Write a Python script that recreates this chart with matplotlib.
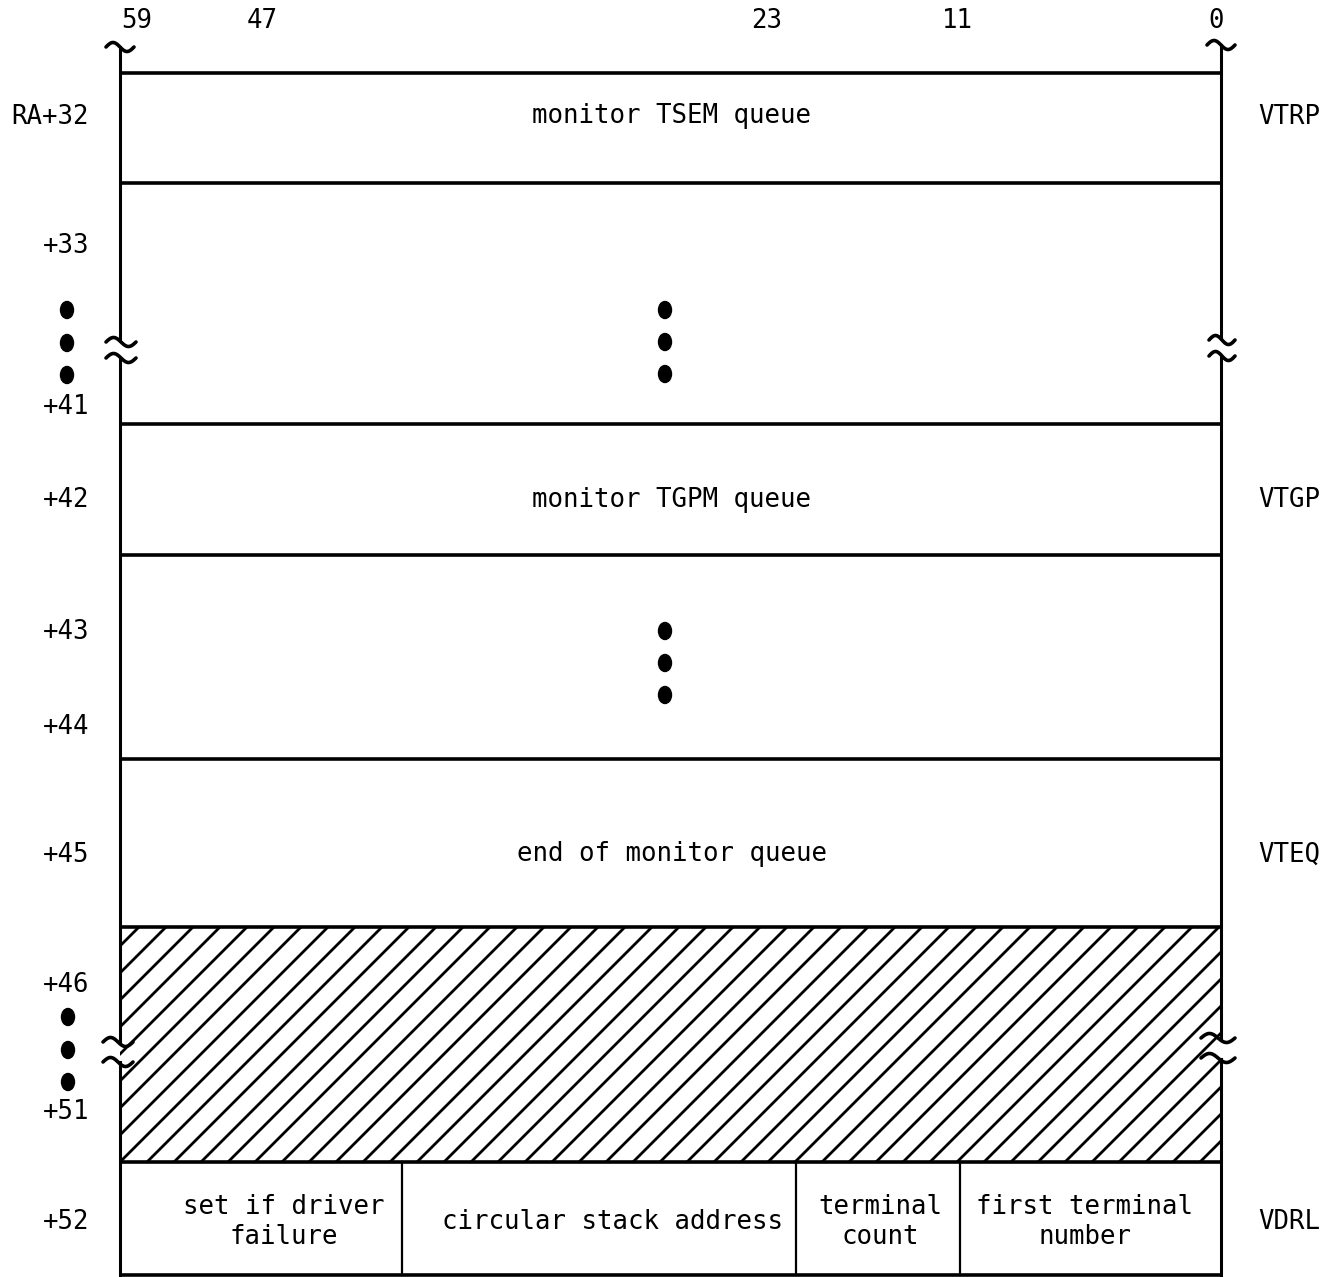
import numpy as np
import matplotlib
matplotlib.use("Agg")
import matplotlib.pyplot as plt
from matplotlib.patches import Rectangle, Ellipse

# ---------------- data ----------------
bit_labels = ["59", "47", "23", "11", "0"]
word_labels = ["RA+32", "+33", "+41", "+42", "+43", "+44", "+45", "+46", "+51", "+52"]
row_texts = ["monitor TSEM queue", "monitor TGPM queue", "end of monitor queue"]
symbol_labels = ["VTRP", "VTGP", "VTEQ", "VDRL"]
field_labels = ["set if driver\nfailure", "circular stack address",
                "terminal\ncount", "first terminal\nnumber"]

# ---------------- layout (pixels) ----------------
W, H = 1338, 1277
XL, XR = 120, 1221
row_lines = [73, 183, 424, 555, 759, 927, 1162, 1275]
bit_x = [137, 262, 767, 957, 1216]
word_y = [117, 246, 407, 500, 632, 727, 855, 985, 1112, 1222]
row_text_y = [116, 500, 854]
sym_y = [117, 500, 855, 1222]
field_div = [402, 796, 960]
field_cx = [284, 612, 880, 1085]

FONT = "DejaVu Sans Mono"
FS = 18.5

fig = plt.figure(figsize=(W / 100, H / 100), dpi=100)
ax = fig.add_axes([0, 0, 1, 1])
ax.set_xlim(0, W)
ax.set_ylim(H, 0)
ax.axis("off")

LWH = 2.6
LWV = 2.2

def tilde(xc, yc, w=30, amp=4.5):
    t = np.linspace(0, 1, 60)
    ax.plot(xc - w / 2 + w * t, yc - amp * np.sin(2 * np.pi * t),
            color="black", lw=2.6, solid_capstyle="round")

def dots(xc, ys):
    for y in ys:
        ax.add_patch(Ellipse((xc, y), 13, 17, color="black"))

# horizontal lines
for y in row_lines:
    ax.plot([XL, XR], [y, y], color="black", lw=LWH, solid_capstyle="butt")

# vertical sides with breaks
left_segs = [(47, 340), (358, 1041), (1062, 1276)]
right_segs = [(45, 338), (356, 1038), (1059, 1276)]
for a, b in left_segs:
    ax.plot([XL, XL], [a, b], color="black", lw=LWV)
for a, b in right_segs:
    ax.plot([XR, XR], [a, b], color="black", lw=LWV)

# tilde marks
tilde(XL, 47, w=28)
tilde(XR, 45, w=28)
tilde(XL + 1, 342, w=30)
tilde(XL + 1, 358, w=30)
tilde(XR + 1, 340, w=26)
tilde(XR + 1, 356, w=26)
tilde(XL - 2, 1042, w=30)
tilde(XL - 2, 1062, w=30)
tilde(XR - 3, 1038, w=34)
tilde(XR - 3, 1058, w=34)

# hatched region
top, bot = row_lines[5], row_lines[6]
clip = Rectangle((XL, top), XR - XL, bot - top, transform=ax.transData)
for c in np.arange(1660 - 27 * 30, XR + bot + 27, 27):
    ln, = ax.plot([XL - 300, XR + 300], [c - (XL - 300), c - (XR + 300)],
                  color="black", lw=2.0)
    ln.set_clip_path(clip)

# bottom row dividers
for x in field_div:
    ax.plot([x, x], [row_lines[6], row_lines[7]], color="black", lw=1.6)

# text
txt = dict(fontfamily=FONT, fontsize=FS, color="black")
for lab, x in zip(bit_labels, bit_x):
    ax.text(x, 21, lab, ha="center", va="center", **txt)
for lab, y in zip(word_labels, word_y):
    ax.text(89, y, lab, ha="right", va="center", **txt)
for lab, y in zip(row_texts, row_text_y):
    ax.text(672, y, lab, ha="center", va="center", **txt)
for lab, y in zip(symbol_labels, sym_y):
    ax.text(1289, y, lab, ha="center", va="center", **txt)
for lab, x in zip(field_labels, field_cx):
    ax.text(x, 1222, lab, ha="center", va="center", multialignment="center",
            linespacing=1.15, **txt)

# ellipsis dots
dots(67, [310, 343, 375])
dots(665, [310, 342, 374])
dots(665, [631, 663, 695])
dots(68, [1017, 1050, 1082])

fig.savefig("out.png", dpi=100, facecolor="white")
